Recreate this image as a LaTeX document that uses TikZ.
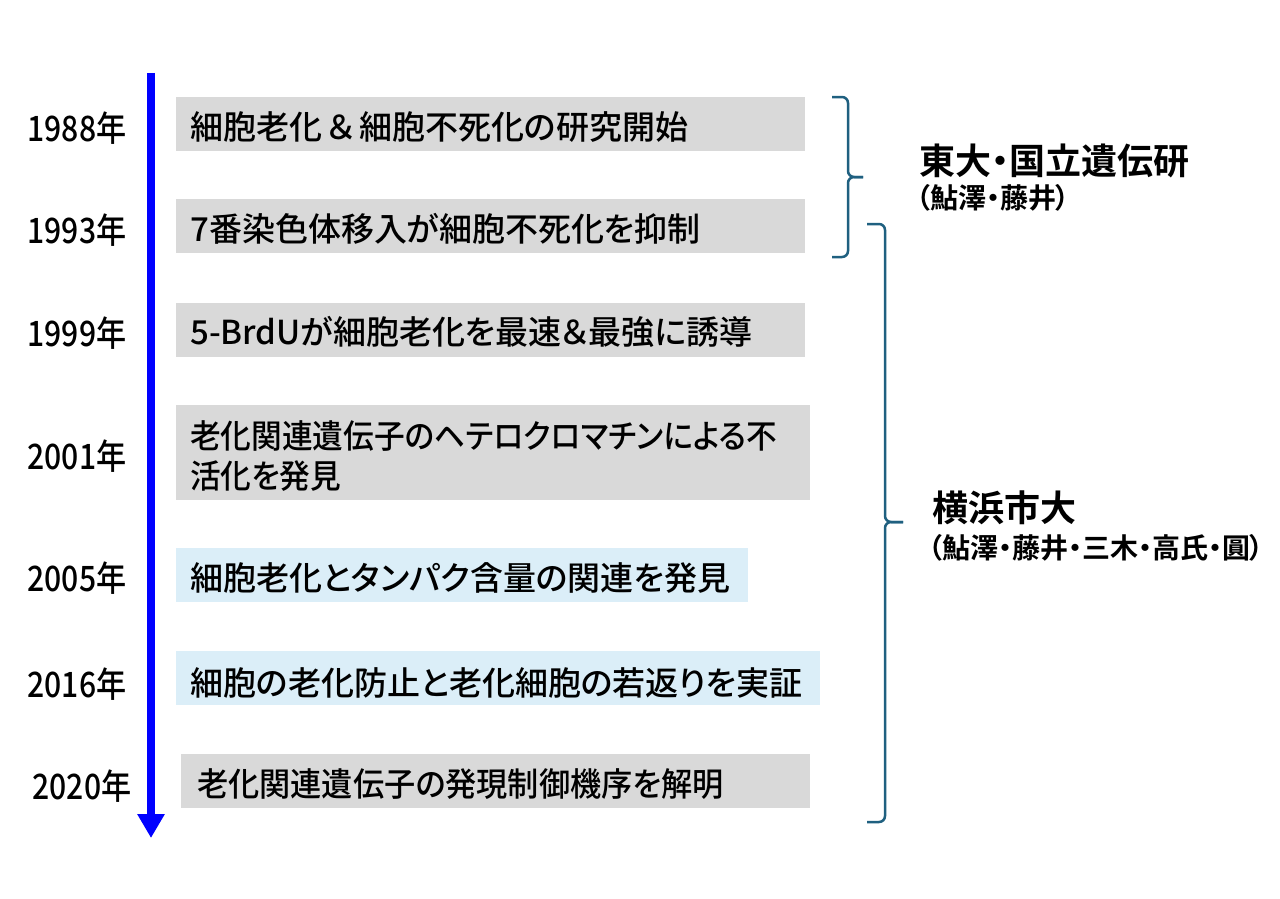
\documentclass[tikz,border=0pt]{standalone}
\usepackage{fontspec}
\newfontfamily\jp{Noto Sans CJK JP}[UprightFont={* Medium}]
\newfontfamily\jpp{Noto Sans CJK JP}[UprightFont={* Medium},BoldFont={* Bold},RawFeature=+palt]
\newfontfamily\jpb{Noto Sans CJK JP Bold}[RawFeature=+palt]
\usetikzlibrary{arrows.meta}
\definecolor{boxgray}{RGB}{217,217,217}
\definecolor{boxblue}{RGB}{219,238,248}
\definecolor{brace}{RGB}{31,96,128}
\tikzset{
  x=1pt,y=-1pt,
  gbox/.style={fill=boxgray,draw=none,anchor=north west,minimum height=54pt,inner sep=0pt},
  bbox/.style={fill=boxblue,draw=none,anchor=north west,minimum height=54pt,inner sep=0pt},
  btext/.style={anchor=west,inner sep=0pt,font=\jpp\fontsize{33}{40}\selectfont,align=left},
  year/.style={inner sep=0pt,font=\jp\fontsize{35}{40}\selectfont},
  bigl/.style={anchor=west,inner sep=0pt,font=\jpb\fontsize{36}{40}\selectfont},
  smalll/.style={anchor=west,inner sep=0pt,font=\jpb\fontsize{28}{30}\selectfont},
  bracel/.style={draw=brace,line width=2.5pt,rounded corners=6pt},
}
\newcommand{\yr}[1]{\scalebox{0.86}[1]{#1}}
\newcommand{\narrow}[2]{\scalebox{#1}[1]{#2}}
\begin{document}
\begin{tikzpicture}
\useasboundingbox (0,0) rectangle (1280,899);
\fill[white] (0,0) rectangle (1280,899);
% timeline arrow
\coordinate (atop) at (151,73);
\coordinate (abot) at (151,838);
\draw[blue,line width=8pt,-{Triangle[width=26pt,length=24pt]}] (atop) -- (abot);
% years
\node[year] (y1) at (77,128) {\yr{1988年}};
\node[year] (y2) at (77,230) {\yr{1993年}};
\node[year] (y3) at (77,333) {\yr{1999年}};
\node[year] (y4) at (77,456) {\yr{2001年}};
\node[year] (y5) at (77,578) {\yr{2005年}};
\node[year] (y6) at (77,684) {\yr{2016年}};
\node[year] (y7) at (82,786) {\yr{2020年}};
% boxes
\node[gbox,minimum width=629pt] (b1) at (176,97) {};
\node[btext] (t1) at (190,127) {細胞老化\kern5pt＆\kern5pt細胞不死化の研究開始};
\node[gbox,minimum width=629pt] (b2) at (176,199) {};
\node[btext] (t2) at (190,229) {7番染色体移入が細胞不死化を抑制};
\node[gbox,minimum width=629pt] (b3) at (176,303) {};
\node[btext] (t3) at (190,332) {5-BrdUが細胞老化を最速＆最強に誘導};
\node[gbox,minimum width=634pt,minimum height=95pt] (b4) at (176,405) {};
\node[btext] (t4) at (190,456) {\narrow{0.93}{老化関連遺伝子のヘテロクロマチンによる不}\\\narrow{0.93}{活化を発見}};
\node[bbox,minimum width=572pt] (b5) at (176,548) {};
\node[btext] (t5) at (190,578) {細胞老化とタンパク含量の関連を発見};
\node[bbox,minimum width=644pt] (b6) at (176,651) {};
\node[btext] (t6) at (190,683) {細胞の老化防止と老化細胞の若返りを実証};
\node[gbox,minimum width=629pt] (b7) at (181,754) {};
\node[btext] (t7) at (197,784) {\narrow{0.945}{老化関連遺伝子の発現制御機序を解明}};
% brace 1
\coordinate (p1a) at (832,97);
\coordinate (p1b) at (848,97);
\coordinate (p1m) at (848,177);
\coordinate (p1t) at (863,177);
\coordinate (p1c) at (848,257);
\coordinate (p1d) at (832,257);
\draw[bracel] (p1a) -- (p1b) -- (p1m) -- (p1t);
\draw[bracel] (p1t) -- (p1m) -- (p1c) -- (p1d);
% brace 2
\coordinate (p2a) at (867,224);
\coordinate (p2b) at (885,224);
\coordinate (p2m) at (885,522);
\coordinate (p2t) at (903,522);
\coordinate (p2c) at (885,822);
\coordinate (p2d) at (867,822);
\draw[bracel] (p2a) -- (p2b) -- (p2m) -- (p2t);
\draw[bracel] (p2t) -- (p2m) -- (p2c) -- (p2d);
% labels
\node[bigl] (l1) at (919,161) {東大・国立遺伝研};
\node[smalll] (l1s) at (916,198) {（鮎澤・藤井）};
\node[bigl] (l2) at (932,508) {横浜市大};
\node[smalll] (l2s) at (928,548) {（鮎澤・藤井・三木・高氏・圓）};
\end{tikzpicture}
\end{document}
